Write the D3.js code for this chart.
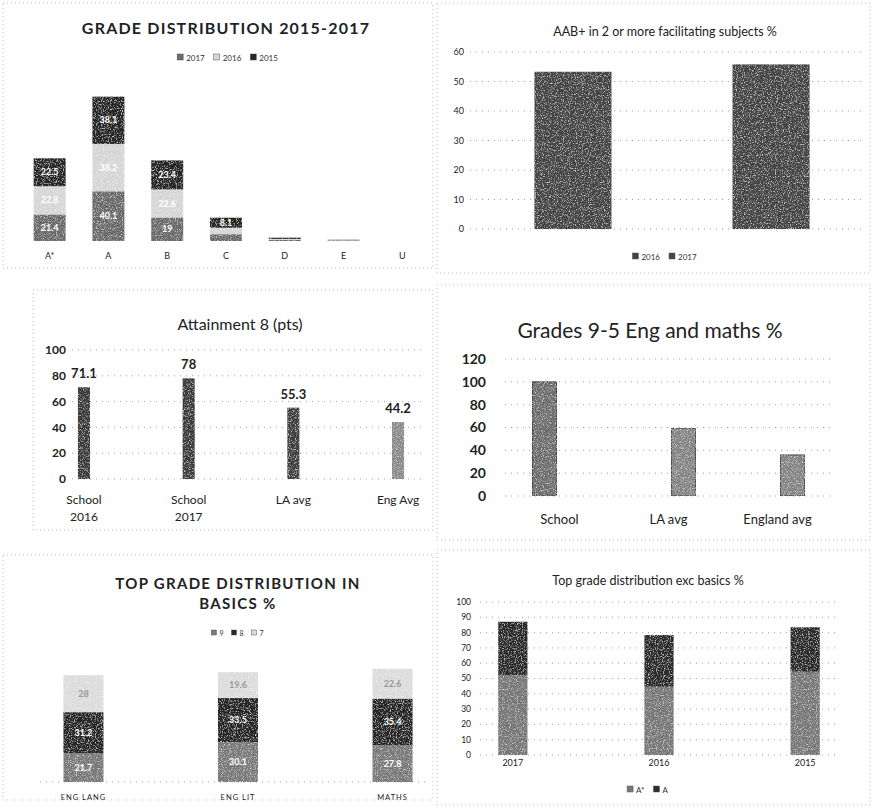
<!DOCTYPE html>
<html lang="en">
<head>
<meta charset="UTF-8">
<title>School results</title>
<script src="https://cdnjs.cloudflare.com/ajax/libs/d3/7.8.5/d3.min.js"></script>
<style>
    body { margin: 0; background: #fff; }
    svg { display: block; font-family: Lato, "Open Sans", sans-serif; }
    .frame { fill: none; stroke: #a8a8a8; stroke-width: 0.8; stroke-dasharray: 1 3; }
    .grid { stroke: #8a8a8a; stroke-width: 0.8; stroke-dasharray: 1 5; }
</style>
</head>
<body>
<script>
// grade distribution 2015-2017 (stacked, 2017 at the bottom)
const gradeCats = ["A*", "A", "B", "C", "D", "E", "U"];
const gradeYears = ["2017", "2016", "2015"];
const grade2017 = [21.4, 40.1, 19.0, 5.5, 0.9, 0.3, 0];
const grade2016 = [22.8, 38.2, 22.6, 5.2, 0.8, 0.3, 0];
const grade2015 = [22.5, 38.1, 23.4, 8.1, 1.0, 0.4, 0];

// AAB+ in 2 or more facilitating subjects
const aabYears = ["2016", "2017"];
const aabValues = [53.3, 55.8];
const aabTicks = [0, 10, 20, 30, 40, 50, 60];

// attainment 8
const att8Cats = ["School 2016", "School 2017", "LA avg", "Eng Avg"];
const att8Values = [71.1, 78, 55.3, 44.2];
const att8Ticks = [0, 20, 40, 60, 80, 100];

// grades 9-5 eng and maths
const g95Cats = ["School", "LA avg", "England avg"];
const g95Series = ["School", "Average"];
const g95School = [100, null, null];
const g95Average = [null, 59, 36];
const g95Ticks = [0, 20, 40, 60, 80, 100, 120];

// top grade distribution in basics (stacked, grade 9 at the bottom)
const basicsCats = ["ENG LANG", "ENG LIT", "MATHS"];
const basicsSeries = ["9", "8", "7"];
const basics9 = [21.7, 30.1, 27.8];
const basics8 = [31.2, 33.5, 35.4];
const basics7 = [28.0, 19.6, 22.6];

// top grade distribution exc basics
const excCats = ["2017", "2016", "2015"];
const excSeries = ["A*", "A"];
const excAstar = [52.3, 44.6, 54.4];
const excA = [34.8, 33.8, 29.1];
const excTicks = [0, 10, 20, 30, 40, 50, 60, 70, 80, 90, 100];

const svg = d3.select("body").append("svg").attr("width", 873).attr("height", 811);

// speckle filter so the bars look like the scanned print
const defs = svg.append("defs");
const grain = defs.append("filter").attr("id", "grain")
    .attr("x", 0).attr("y", 0).attr("width", 1).attr("height", 1);
grain.append("feTurbulence").attr("type", "fractalNoise").attr("baseFrequency", 0.85)
    .attr("numOctaves", 2).attr("seed", 3).attr("result", "noise");
grain.append("feColorMatrix").attr("in", "noise").attr("type", "matrix")
    .attr("values", "0 0 0 0 1  0 0 0 0 1  0 0 0 0 1  2.0 0 0 0 -1.05").attr("result", "white");
grain.append("feComposite").attr("in", "white").attr("in2", "SourceGraphic")
    .attr("operator", "in").attr("result", "specks");
const merge = grain.append("feMerge");
merge.append("feMergeNode").attr("in", "SourceGraphic");
merge.append("feMergeNode").attr("in", "specks");

// panel frames
[[3, 3, 430, 265], [437, 3, 433, 270], [33, 290, 400, 240],
 [437, 285, 433, 255], [3, 555, 430, 245], [437, 550, 433, 255]].forEach(f => {
    svg.append("rect").attr("class", "frame")
        .attr("x", f[0]).attr("y", f[1]).attr("width", f[2]).attr("height", f[3]);
});

function title(x, y, txt, size, weight, spacing) {
    return svg.append("text").attr("x", x).attr("y", y).attr("text-anchor", "middle")
        .attr("font-size", size).attr("font-weight", weight || "normal")
        .attr("letter-spacing", spacing || 0).attr("fill", "#222").text(txt);
}

function legend(cx, y, keys, colors, size) {
    const g = svg.append("g");
    let x = 0;
    keys.forEach((k, i) => {
        const item = g.append("g").attr("transform", `translate(${x},0)`);
        item.append("rect").attr("x", 0).attr("y", -size + 1).attr("width", size - 2).attr("height", size - 2)
            .attr("fill", colors[i]).attr("stroke", "#555").attr("stroke-width", 0.5);
        const t = item.append("text").attr("x", size + 1).attr("y", 0).attr("font-size", size)
            .attr("fill", "#333").text(k);
        x += size + 2 + t.node().getComputedTextLength() + size;
    });
    const w = x - size;
    g.attr("transform", `translate(${cx - w / 2},${y})`);
}

function yAxis(scale, ticks, x0, x1, labelX, size, weight) {
    svg.append("g").selectAll("line").data(ticks).join("line").attr("class", "grid")
        .attr("x1", x0).attr("x2", x1).attr("y1", d => scale(d)).attr("y2", d => scale(d));
    svg.append("g").selectAll("text").data(ticks).join("text")
        .attr("x", labelX).attr("y", d => scale(d)).attr("dy", "0.35em")
        .attr("text-anchor", "end").attr("font-size", size).attr("font-weight", weight || "normal")
        .attr("fill", "#222").text(d => d);
}

function xLabels(scale, cats, y, size, spacing) {
    svg.append("g").selectAll("text").data(cats).join("text")
        .attr("x", d => scale(d) + scale.bandwidth() / 2).attr("y", y)
        .attr("text-anchor", "middle").attr("font-size", size).attr("letter-spacing", spacing || 0)
        .attr("fill", "#222").text(d => d);
}

// ---------- panel 1: grade distribution ----------
title(226, 34, "GRADE DISTRIBUTION 2015-2017", 16, "bold", 1.2);
const p1Colors = ["#6b6b6b", "#d6d6d6", "#262626"];
legend(228, 61, gradeYears, p1Colors, 8);

const x1 = d3.scaleBand().domain(gradeCats).range([16, 436]).paddingInner(0.456).paddingOuter(0.3);
const y1 = d3.scaleLinear().domain([0, 100]).range([241, 117]);
const c1 = d3.scaleOrdinal().domain(gradeYears).range(p1Colors);
const rows1 = gradeCats.map((g, i) => ({ cat: g, "2017": grade2017[i], "2016": grade2016[i], "2015": grade2015[i] }));
const stack1 = d3.stack().keys(gradeYears)(rows1);

stack1.forEach(layer => {
    const g = svg.append("g");
    g.selectAll("rect").data(layer).join("rect")
        .attr("x", d => x1(d.data.cat)).attr("width", x1.bandwidth())
        .attr("y", d => y1(d[1])).attr("height", d => y1(d[0]) - y1(d[1]))
        .attr("fill", c1(layer.key)).attr("filter", "url(#grain)");
    g.selectAll("text").data(layer.filter(d => y1(d[0]) - y1(d[1]) > 8)).join("text")
        .attr("x", d => x1(d.data.cat) + x1.bandwidth() / 2)
        .attr("y", d => (y1(d[0]) + y1(d[1])) / 2).attr("dy", "0.35em")
        .attr("text-anchor", "middle").attr("font-size", 9).attr("font-weight", "bold")
        .attr("fill", "#fff").text(d => d.data[layer.key]);
});
xLabels(x1, gradeCats, 259, 9);

// ---------- panel 2: AAB+ ----------
title(665, 36, "AAB+ in 2 or more facilitating subjects %", 12.5);
const x2 = d3.scaleBand().domain(aabYears).range([474, 870]).paddingInner(0.611).paddingOuter(0.305);
const y2 = d3.scaleLinear().domain([0, 60]).range([229, 52]);
yAxis(y2, aabTicks, 470, 862, 464, 9);
svg.append("g").selectAll("rect").data(aabYears).join("rect")
    .attr("x", d => x2(d)).attr("width", x2.bandwidth())
    .attr("y", (d, i) => y2(aabValues[i])).attr("height", (d, i) => y2(0) - y2(aabValues[i]))
    .attr("fill", "#454545").attr("filter", "url(#grain)");
legend(665, 260, aabYears, ["#454545", "#454545"], 8);

// ---------- panel 3: attainment 8 ----------
title(240, 330, "Attainment 8 (pts)", 16);
const x3 = d3.scaleBand().domain(att8Cats).range([57, 425]).paddingInner(0.885).paddingOuter(0.2);
const y3 = d3.scaleLinear().domain([0, 100]).range([479, 350]);
const c3 = d3.scaleOrdinal().domain(att8Cats).range(["#3a3a3a", "#3a3a3a", "#3f3f3f", "#8c8c8c"]);
yAxis(y3, att8Ticks, 72, 425, 66, 12, "bold");
svg.append("g").selectAll("rect").data(att8Cats).join("rect")
    .attr("x", d => x3(d)).attr("width", x3.bandwidth())
    .attr("y", (d, i) => y3(att8Values[i])).attr("height", (d, i) => y3(0) - y3(att8Values[i]))
    .attr("fill", d => c3(d)).attr("filter", "url(#grain)");
svg.append("g").selectAll("text").data(att8Cats).join("text")
    .attr("x", d => x3(d) + x3.bandwidth() / 2).attr("y", (d, i) => y3(att8Values[i]) - 9)
    .attr("text-anchor", "middle").attr("font-size", 13).attr("font-weight", "bold")
    .attr("fill", "#222").text((d, i) => att8Values[i]);
// category labels, "School 2016" style names wrap on two lines
svg.append("g").selectAll("text").data(att8Cats).join("text")
    .attr("x", d => x3(d) + x3.bandwidth() / 2).attr("y", 504)
    .attr("text-anchor", "middle").attr("font-size", 12).attr("fill", "#222")
    .each(function (d) {
        const parts = d.startsWith("School") ? d.split(" ") : [d];
        d3.select(this).selectAll("tspan").data(parts).join("tspan")
            .attr("x", d3.select(this).attr("x")).attr("dy", (p, j) => j ? 17 : 0).text(p => p);
    });

// ---------- panel 4: grades 9-5 eng and maths ----------
title(650, 338, "Grades 9-5 Eng and maths %", 21);
const x4 = d3.scaleBand().domain(g95Cats).range([505, 832]);
const x4s = d3.scaleBand().domain(g95Series).range([0, x4.bandwidth()]).paddingInner(0.2).paddingOuter(0.917);
const y4 = d3.scaleLinear().domain([0, 120]).range([496, 359]);
const c4 = d3.scaleOrdinal().domain(g95Series).range(["#6e6e6e", "#858585"]);
yAxis(y4, g95Ticks, 505, 832, 486, 14, "bold");
[g95School, g95Average].forEach((vals, si) => {
    const key = g95Series[si];
    svg.append("g").selectAll("rect").data(g95Cats.filter((c, i) => vals[i] != null)).join("rect")
        .attr("x", d => x4(d) + x4s(key)).attr("width", x4s.bandwidth())
        .attr("y", d => y4(vals[g95Cats.indexOf(d)]))
        .attr("height", d => y4(0) - y4(vals[g95Cats.indexOf(d)]))
        .attr("fill", c4(key)).attr("stroke", "#333").attr("stroke-width", 0.8)
        .attr("filter", "url(#grain)");
});
xLabels(x4, g95Cats, 524, 13);

// ---------- panel 5: top grade distribution in basics ----------
title(238, 589, "TOP GRADE DISTRIBUTION IN", 15, "bold", 1.3);
title(238, 609, "BASICS %", 15, "bold", 1.3);
const p5Colors = ["#7a7a7a", "#282828", "#dcdcdc"];
legend(238, 636, basicsSeries, p5Colors, 7);
const x5 = d3.scaleBand().domain(basicsCats).range([48, 428]).paddingInner(0.741).paddingOuter(0.1);
const y5 = d3.scaleLinear().domain([0, 100]).range([782, 650]);
const c5 = d3.scaleOrdinal().domain(basicsSeries).range(p5Colors);
const rows5 = basicsCats.map((c, i) => ({ cat: c, "9": basics9[i], "8": basics8[i], "7": basics7[i] }));
const stack5 = d3.stack().keys(basicsSeries)(rows5);
svg.append("line").attr("class", "grid").attr("x1", 40).attr("x2", 430)
    .attr("y1", y5(0)).attr("y2", y5(0));
stack5.forEach(layer => {
    const g = svg.append("g");
    g.selectAll("rect").data(layer).join("rect")
        .attr("x", d => x5(d.data.cat)).attr("width", x5.bandwidth())
        .attr("y", d => y5(d[1])).attr("height", d => y5(d[0]) - y5(d[1]))
        .attr("fill", c5(layer.key)).attr("filter", "url(#grain)");
    g.selectAll("text").data(layer).join("text")
        .attr("x", d => x5(d.data.cat) + x5.bandwidth() / 2)
        .attr("y", d => (y5(d[0]) + y5(d[1])) / 2).attr("dy", "0.35em")
        .attr("text-anchor", "middle").attr("font-size", 9).attr("font-weight", "bold")
        .attr("fill", layer.key === "7" ? "#9a9a9a" : "#fff").text(d => d.data[layer.key]);
});
xLabels(x5, basicsCats, 800, 7.5, 1);

// ---------- panel 6: top grade distribution exc basics ----------
title(648, 585, "Top grade distribution exc basics %", 12.5);
const x6 = d3.scaleBand().domain(excCats).range([469, 849]).paddingInner(0.8).paddingOuter(0.2);
const y6 = d3.scaleLinear().domain([0, 100]).range([755, 602]);
const p6Colors = ["#787878", "#2c2c2c"];
const c6 = d3.scaleOrdinal().domain(excSeries).range(p6Colors);
yAxis(y6, excTicks, 480, 836, 471, 8.5);
const rows6 = excCats.map((c, i) => ({ cat: c, "A*": excAstar[i], "A": excA[i] }));
const stack6 = d3.stack().keys(excSeries)(rows6);
stack6.forEach(layer => {
    svg.append("g").selectAll("rect").data(layer).join("rect")
        .attr("x", d => x6(d.data.cat)).attr("width", x6.bandwidth())
        .attr("y", d => y6(d[1])).attr("height", d => y6(d[0]) - y6(d[1]))
        .attr("fill", c6(layer.key)).attr("filter", "url(#grain)");
});
xLabels(x6, excCats, 766, 9);
legend(648, 793, excSeries, p6Colors, 8);
</script>
</body>
</html>
